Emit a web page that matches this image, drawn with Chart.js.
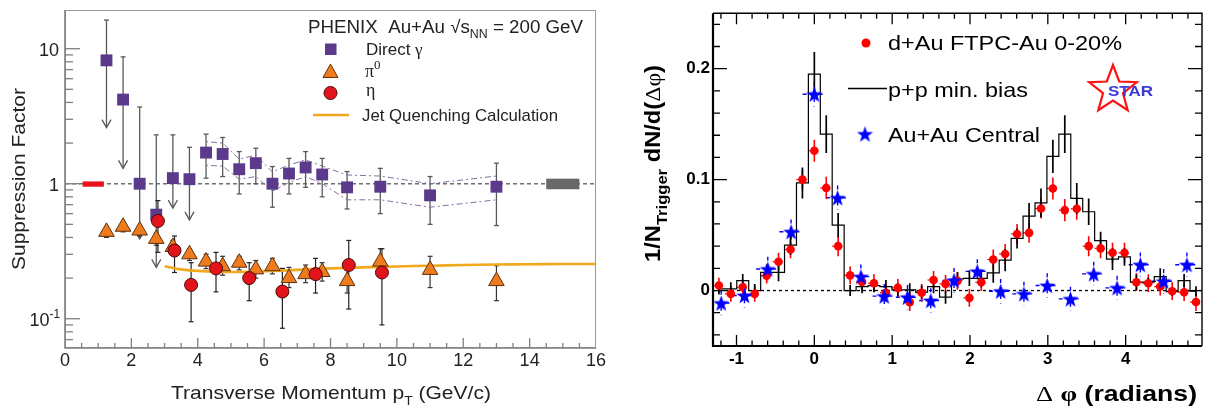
<!DOCTYPE html>
<html>
<head>
<meta charset="utf-8">
<script src="https://cdn.jsdelivr.net/npm/chart.js@4.4.0/dist/chart.umd.min.js"></script>
<style>
html, body { margin: 0; padding: 0; background: #fff; }
#wrap { position: relative; width: 1210px; height: 407px; overflow: hidden; }
#left { position: absolute; left: 0; top: 0; }
#right { position: absolute; left: 620px; top: 0; }
</style>
</head>
<body>
<div id="wrap">
  <canvas id="left" width="620" height="407"></canvas>
  <canvas id="right" width="590" height="407"></canvas>
</div>
<script>
// ---- left panel: PHENIX suppression factors vs pT ----
const gammaPt  = [1.25, 1.75, 2.25, 2.75, 3.25, 3.75, 4.25, 4.75, 5.25, 5.75, 6.25, 6.75, 7.25, 7.75, 8.5, 9.5, 11, 13];
const gammaVal = [8.2, 4.2, 1.0, 0.59, 1.1, 1.08, 1.70, 1.66, 1.28, 1.42, 1.0, 1.19, 1.32, 1.17, 0.94, 0.95, 0.82, 0.95];
const gammaHi  = [16.3, 8.7, 3.7, 2.3, 2.3, 1.86, 2.33, 2.2, 1.73, 1.83, 1.34, 1.54, 1.73, 1.54, 1.23, 1.30, 1.13, 1.42];
const gammaLo  = [2.6, 1.3, 0.39, 0.24, 0.66, 0.54, 1.1, 1.13, 0.84, 1.0, 0.67, 0.84, 0.94, 0.8, 0.65, 0.60, 0.50, 0.49];
const gammaLimit = [true, true, true, true, true, true, false, false, false, false, false, false, false, false, false, false, false, false];

const pi0Pt  = [1.25, 1.75, 2.25, 2.75, 3.25, 3.75, 4.25, 4.75, 5.25, 5.75, 6.25, 6.75, 7.25, 7.75, 8.5, 9.5, 11, 13];
const pi0Val = [0.44, 0.48, 0.45, 0.39, 0.34, 0.30, 0.265, 0.245, 0.26, 0.232, 0.245, 0.20, 0.214, 0.222, 0.19, 0.265, 0.23, 0.19];
const pi0Hi  = [0.48, 0.52, 0.49, 0.43, 0.38, 0.33, 0.30, 0.29, 0.29, 0.27, 0.28, 0.24, 0.25, 0.26, 0.23, 0.33, 0.29, 0.247];
const pi0Lo  = [0.40, 0.44, 0.41, 0.35, 0.30, 0.27, 0.235, 0.21, 0.23, 0.20, 0.215, 0.17, 0.185, 0.19, 0.155, 0.21, 0.17, 0.136];

const etaPt  = [2.8, 3.3, 3.8, 4.55, 5.55, 6.55, 7.55, 8.55, 9.55];
const etaVal = [0.53, 0.32, 0.178, 0.236, 0.20, 0.159, 0.214, 0.25, 0.22];
const etaHi  = [0.75, 0.41, 0.26, 0.31, 0.26, 0.236, 0.28, 0.38, 0.33];
const etaLo  = [0.31, 0.22, 0.095, 0.158, 0.136, 0.085, 0.155, 0.118, 0.09];

const jqPt  = [3, 3.5, 4, 5, 6, 7, 8, 9, 10, 11, 12, 13, 14, 15, 16];
const jqVal = [0.245, 0.232, 0.226, 0.222, 0.225, 0.23, 0.236, 0.24, 0.244, 0.247, 0.25, 0.252, 0.253, 0.254, 0.254];

const sysPt = [4.25, 4.75, 5.25, 5.75, 6.25, 6.75, 7.25, 7.75, 8.5, 9.5, 11, 13];
const sysHi = [2.05, 2.0, 1.52, 1.63, 1.22, 1.38, 1.5, 1.35, 1.16, 1.14, 1.0, 1.14];
const sysLo = [1.37, 1.35, 1.08, 1.13, 0.88, 1.02, 1.13, 1.0, 0.76, 0.76, 0.67, 0.76];

const normRed  = [0.53, 1.17, 0.95, 1.04];   // x0, x1, lo, hi
const normGrey = [14.5, 15.5, 0.91, 1.09];

const leftXTicks = [0, 2, 4, 6, 8, 10, 12, 14, 16];
const leftYTicks = [10, 1, 0.1];

// ---- right panel: STAR azimuthal correlations ----
const phiBins = [-1.226, -1.073, -0.920, -0.766, -0.613, -0.460, -0.306, -0.153, 0, 0.153, 0.306, 0.460, 0.613,
  0.766, 0.920, 1.073, 1.226, 1.379, 1.532, 1.686, 1.839, 1.992, 2.145, 2.299, 2.452, 2.605, 2.759, 2.912,
  3.065, 3.218, 3.372, 3.525, 3.678, 3.831, 3.985, 4.138, 4.291, 4.444, 4.598, 4.751, 4.904];
const ppHist = [0.0015, 0.0015, 0.009, 0.0, 0.0164, 0.0164, 0.041, 0.097, 0.195, 0.141, 0.059, 0.0, 0.0036,
  0.0045, 0.0036, 0.0006, 0.0006, -0.0015, 0.0036, -0.006, 0.0104, 0.011, 0.011, 0.016, 0.0274, 0.047, 0.067,
  0.079, 0.121, 0.141, 0.083, 0.071, 0.045, 0.0284, 0.0304, 0.0075, 0.0075, 0.0125, -0.0009, 0.009, -0.0006];
const ppErr = [0.005, 0.006, 0.006, 0.006, 0.007, 0.008, 0.009, 0.014, 0.020, 0.017, 0.011, 0.005, 0.006,
  0.006, 0.006, 0.006, 0.006, 0.006, 0.006, 0.006, 0.006, 0.007, 0.008, 0.009, 0.010, 0.009, 0.012,
  0.013, 0.015, 0.017, 0.014, 0.012, 0.008, 0.010, 0.008, 0.007, 0.004, 0.0075, 0.004, 0.006, 0.0045];
const dAuVal = [0.0045, -0.003, 0.003, -0.003, 0.0134, 0.026, 0.037, 0.100, 0.126, 0.0925, 0.040, 0.0137, 0.0078,
  0.0066, -0.002, 0.0024, -0.0105, -0.002, 0.0095, 0.006, 0.0087, -0.0066, 0.0075, 0.028, 0.033, 0.051, 0.052,
  0.074, 0.092, 0.0725, 0.0737, 0.040, 0.038, 0.034, 0.034, 0.0075, 0.0066, 0.0036, -0.0006, -0.0015, -0.0104];
const dAuErr = [0.007, 0.007, 0.007, 0.007, 0.007, 0.008, 0.008, 0.009, 0.010, 0.010, 0.009, 0.008, 0.008,
  0.008, 0.008, 0.008, 0.008, 0.008, 0.008, 0.008, 0.008, 0.008, 0.008, 0.009, 0.009, 0.009, 0.009,
  0.009, 0.010, 0.010, 0.010, 0.009, 0.009, 0.009, 0.009, 0.008, 0.008, 0.008, 0.008, 0.008, 0.008];
const dAuHalfWidth = 0.077;

const auauPhi = [-1.197, -0.898, -0.598, -0.299, 0, 0.299, 0.598, 0.898, 1.197, 1.496, 1.795, 2.094, 2.394,
  2.693, 2.992, 3.291, 3.590, 3.890, 4.189, 4.488, 4.787];
const auauVal = [-0.0113, -0.0045, 0.0194, 0.053, 0.177, 0.0836, 0.0125, -0.005, -0.006, -0.009, 0.0092, 0.0173,
  -0.0006, -0.003, 0.0045, -0.0075, 0.015, 0.0024, 0.0233, 0.0084, 0.0233];
const auauErr = [0.011, 0.011, 0.011, 0.011, 0.011, 0.011, 0.011, 0.011, 0.011, 0.011, 0.011, 0.011, 0.011,
  0.011, 0.011, 0.011, 0.011, 0.011, 0.011, 0.011, 0.011];
const auauHalfWidth = 0.15;

const rightXTicks = [-1, 0, 1, 2, 3, 4];
const rightYTicks = [0, 0.1, 0.2];

const SANS = "'Liberation Sans', Arial, Helvetica, sans-serif";
const SERIF = "'Liberation Serif', 'Times New Roman', serif";
Chart.defaults.font.family = SANS;

function pts(xs, ys) { return xs.map((x, i) => ({ x: x, y: ys[i] })); }

// draws text made of segments [text, 'sub'|'sup'|'', family, weight], optionally stretched to a width
function rich(ctx, segs, x, y, opt) {
  const parts = segs.map(s => {
    const small = s[1] === 'sub' || s[1] === 'sup';
    const sz = small ? opt.size * (opt.small || 0.66) : opt.size;
    const font = (s[3] || opt.weight || 'normal') + ' ' + sz + 'px ' + (s[2] || opt.family || SANS);
    ctx.font = font;
    return { t: s[0], k: s[1], font: font, w: ctx.measureText(s[0]).width };
  });
  const total = parts.reduce((a, p) => a + p.w, 0);
  const sx = opt.width ? opt.width / total : 1;
  const w = total * sx;
  let x0 = x;
  if (opt.align === 'center') x0 = x - w / 2;
  else if (opt.align === 'right') x0 = x - w;
  ctx.save();
  ctx.translate(x0, y);
  ctx.scale(sx, 1);
  ctx.textAlign = 'left';
  ctx.textBaseline = 'alphabetic';
  ctx.fillStyle = opt.color || '#222';
  let cx = 0;
  parts.forEach(p => {
    ctx.font = p.font;
    const dy = p.k === 'sub' ? opt.size * 0.3 : p.k === 'sup' ? -opt.size * 0.42 : 0;
    ctx.fillText(p.t, cx, dy);
    cx += p.w;
  });
  ctx.restore();
}

function starPath(ctx, cx, cy, R, r) {
  ctx.beginPath();
  for (let i = 0; i < 10; i++) {
    const a = -Math.PI / 2 + i * Math.PI / 5;
    const rr = i % 2 ? r : R;
    ctx.lineTo(cx + rr * Math.cos(a), cy + rr * Math.sin(a));
  }
  ctx.closePath();
}

function makeStar(size, color) {
  const c = document.createElement('canvas');
  c.width = size; c.height = size;
  const g = c.getContext('2d');
  starPath(g, size / 2, size / 2 + 0.8, size / 2, size * 0.2);
  g.fillStyle = color;
  g.fill();
  return c;
}
const blueStar = makeStar(17, '#0000ff');

// ---------- left plugin ----------
const phenixDecor = {
  id: 'phenixDecor',
  beforeDatasetsDraw(chart) {
    const { ctx, chartArea: a, scales: { x, y } } = chart;
    ctx.save();
    ctx.beginPath();
    ctx.rect(a.left, a.top, a.right - a.left, a.bottom - a.top);
    ctx.clip();

    const y1 = y.getPixelForValue(1);
    ctx.strokeStyle = '#707070';
    ctx.lineWidth = 1.4;
    ctx.setLineDash([4, 3]);
    ctx.beginPath(); ctx.moveTo(a.left, y1); ctx.lineTo(a.right, y1); ctx.stroke();
    ctx.setLineDash([]);

    [[normRed, '#e8121c'], [normGrey, '#686868']].forEach(([b, col]) => {
      const x0 = x.getPixelForValue(b[0]), x1 = x.getPixelForValue(b[1]);
      const yl = y.getPixelForValue(b[2]), yh = y.getPixelForValue(b[3]);
      ctx.fillStyle = col;
      ctx.fillRect(x0, yh, x1 - x0, yl - yh);
    });

    function bar(xv, lo, hi, col, limit) {
      const px = x.getPixelForValue(xv);
      const pl = y.getPixelForValue(lo), ph = y.getPixelForValue(hi);
      ctx.strokeStyle = col;
      ctx.beginPath(); ctx.moveTo(px, ph); ctx.lineTo(px, pl); ctx.stroke();
      ctx.beginPath(); ctx.moveTo(px - 2.5, ph); ctx.lineTo(px + 2.5, ph); ctx.stroke();
      if (limit) {
        ctx.beginPath();
        ctx.moveTo(px - 4.5, pl - 8); ctx.lineTo(px, pl); ctx.lineTo(px + 4.5, pl - 8);
        ctx.stroke();
      } else {
        ctx.beginPath(); ctx.moveTo(px - 2.5, pl); ctx.lineTo(px + 2.5, pl); ctx.stroke();
      }
    }
    ctx.lineWidth = 1.3;
    gammaPt.forEach((v, i) => bar(v, gammaLo[i], gammaHi[i], '#5a5a5a', gammaLimit[i]));
    ctx.lineWidth = 1.2;
    pi0Pt.forEach((v, i) => bar(v, pi0Lo[i], pi0Hi[i], '#333', false));
    etaPt.forEach((v, i) => bar(v, etaLo[i], etaHi[i], '#222', false));
    ctx.restore();
  },
  afterDraw(chart) {
    const { ctx, chartArea: a, scales: { x, y } } = chart;
    ctx.save();
    // frame
    ctx.strokeStyle = '#9a9a9a';
    ctx.lineWidth = 1;
    ctx.strokeRect(a.left + 0.5, a.top + 0.5, a.right - a.left - 1, a.bottom - a.top - 1);
    ctx.strokeStyle = '#808080';
    ctx.lineWidth = 1.6;
    ctx.beginPath();
    ctx.moveTo(a.left, a.top); ctx.lineTo(a.left, a.bottom); ctx.lineTo(a.right, a.bottom);
    ctx.stroke();
    // ticks
    ctx.lineWidth = 1.3;
    ctx.strokeStyle = '#808080';
    for (let i = 1; i < 32; i++) {
      const px = x.getPixelForValue(i * 0.5);
      const len = i % 4 === 0 ? 10 : 5;
      ctx.beginPath(); ctx.moveTo(px, a.bottom); ctx.lineTo(px, a.bottom - len); ctx.stroke();
    }
    [0.01, 0.1, 1, 10].forEach(dec => {
      for (let m = 1; m <= 9; m++) {
        const v = m * dec;
        if (v < y.min || v > y.max) continue;
        const py = y.getPixelForValue(v);
        const len = m === 1 ? 15 : 8;
        ctx.beginPath(); ctx.moveTo(a.left, py); ctx.lineTo(a.left + len, py); ctx.stroke();
      }
    });
    // y tick labels
    leftYTicks.forEach(v => {
      const py = y.getPixelForValue(v) + 7;
      if (v === 0.1) rich(ctx, [['10', ''], ['-1', 'sup']], 60, py, { size: 18, align: 'right', color: '#222' });
      else rich(ctx, [[String(v), '']], 59, py, { size: 18, align: 'right', color: '#222' });
    });
    // axis titles
    rich(ctx, [['Transverse Momentum p', ''], ['T', 'sub'], [' (GeV/c)', '']], 331, 399, { size: 19, align: 'center', width: 320 });
    ctx.save();
    ctx.translate(25, 179);
    ctx.rotate(-Math.PI / 2);
    rich(ctx, [['Suppression Factor', '']], 0, 0, { size: 19, align: 'center', width: 182 });
    ctx.restore();
    // legend
    rich(ctx, [['PHENIX  Au+Au \u221As', ''], ['NN', 'sub'], [' = 200 GeV', '']], 308, 33, { size: 18, width: 275 });
    ctx.fillStyle = '#5b3a8c';
    ctx.fillRect(325, 43.5, 11.5, 11.5);
    ctx.beginPath();
    ctx.moveTo(330.5, 64); ctx.lineTo(338, 77.5); ctx.lineTo(323, 77.5); ctx.closePath();
    ctx.fillStyle = '#f07b1d'; ctx.fill();
    ctx.strokeStyle = '#5c3210'; ctx.lineWidth = 1; ctx.stroke();
    ctx.beginPath(); ctx.arc(330.5, 93, 6.5, 0, Math.PI * 2);
    ctx.fillStyle = '#e3131c'; ctx.fill();
    ctx.strokeStyle = '#4a0a0a'; ctx.stroke();
    ctx.strokeStyle = '#f2a81d'; ctx.lineWidth = 2.5;
    ctx.beginPath(); ctx.moveTo(313, 115); ctx.lineTo(349, 115); ctx.stroke();
    rich(ctx, [['Direct ', ''], ['\u03b3', '', SERIF]], 366, 55, { size: 17 });
    rich(ctx, [['\u03c0', '', SERIF], ['0', 'sup', SERIF]], 365, 77, { size: 18, small: 0.72 });
    rich(ctx, [['\u03b7', '', SERIF]], 366, 96, { size: 18 });
    rich(ctx, [['Jet Quenching Calculation', '']], 362, 121, { size: 17, width: 196 });
    ctx.restore();
  }
};

new Chart(document.getElementById('left'), {
  type: 'scatter',
  data: {
    datasets: [
      { label: '\u03b7', data: pts(etaPt, etaVal), pointStyle: 'circle', pointRadius: 6.5,
        backgroundColor: '#e3131c', borderColor: '#4a0a0a', borderWidth: 1, order: 1 },
      { label: '\u03c00', data: pts(pi0Pt, pi0Val), pointStyle: 'triangle', pointRadius: 9,
        backgroundColor: '#f07b1d', borderColor: '#5c3210', borderWidth: 1, order: 2 },
      { label: 'Direct \u03b3', data: pts(gammaPt, gammaVal), pointStyle: 'rect', pointRadius: 8.4,
        backgroundColor: '#5b3a8c', borderColor: '#5b3a8c', borderWidth: 0, order: 3 },
      { type: 'line', label: 'Jet Quenching Calculation', data: pts(jqPt, jqVal), borderColor: '#f2a81d',
        borderWidth: 2.6, pointRadius: 0, tension: 0.4, order: 4 },
      { type: 'line', label: 'sys hi', data: pts(sysPt, sysHi), borderColor: '#7f7399', borderWidth: 1,
        borderDash: [2, 3, 6, 3], pointRadius: 0, order: 5 },
      { type: 'line', label: 'sys lo', data: pts(sysPt, sysLo), borderColor: '#7f7399', borderWidth: 1,
        borderDash: [2, 3, 6, 3], pointRadius: 0, order: 6 }
    ]
  },
  options: {
    responsive: false,
    animation: false,
    layout: { padding: { top: 10, right: 24, left: 0, bottom: 0 } },
    plugins: { legend: { display: false }, tooltip: { enabled: false } },
    scales: {
      x: {
        type: 'linear', min: 0, max: 16,
        grid: { display: false, drawTicks: false }, border: { display: false },
        afterBuildTicks: s => { s.ticks = leftXTicks.map(v => ({ value: v })); },
        afterFit: s => { s.height = 59; },
        ticks: { font: { size: 18 }, color: '#222', padding: 2, maxRotation: 0 }
      },
      y: {
        type: 'logarithmic', min: 0.0607, max: 19.35,
        grid: { display: false, drawTicks: false }, border: { display: false },
        ticks: { display: false },
        afterFit: s => { s.width = 65; }
      }
    }
  },
  plugins: [phenixDecor]
});

// ---------- right plugin ----------
const starDecor = {
  id: 'starDecor',
  beforeDatasetsDraw(chart) {
    const { ctx, chartArea: a, scales: { x, y } } = chart;
    ctx.save();
    ctx.beginPath();
    ctx.rect(a.left, a.top, a.right - a.left, a.bottom - a.top);
    ctx.clip();
    const y0 = y.getPixelForValue(0);
    ctx.strokeStyle = '#000';
    ctx.lineWidth = 1.3;
    ctx.setLineDash([3, 3]);
    ctx.beginPath(); ctx.moveTo(a.left, y0); ctx.lineTo(a.right, y0); ctx.stroke();

    // Au+Au error bars (dashed blue)
    ctx.strokeStyle = '#0000ff';
    ctx.lineWidth = 1.4;
    ctx.setLineDash([4, 4]);
    auauPhi.forEach((v, i) => {
      const px = x.getPixelForValue(v), py = y.getPixelForValue(auauVal[i]);
      const pl = y.getPixelForValue(auauVal[i] - auauErr[i]), ph = y.getPixelForValue(auauVal[i] + auauErr[i]);
      const xl = x.getPixelForValue(v - auauHalfWidth), xr = x.getPixelForValue(v + auauHalfWidth);
      ctx.beginPath();
      ctx.moveTo(px, ph); ctx.lineTo(px, pl);
      ctx.moveTo(xl, py); ctx.lineTo(xr, py);
      ctx.stroke();
    });
    // d+Au error bars
    ctx.strokeStyle = '#ff0000';
    dAuVal.forEach((v, i) => {
      const px = x.getPixelForValue(phiBins[i]), py = y.getPixelForValue(v);
      const pl = y.getPixelForValue(v - dAuErr[i]), ph = y.getPixelForValue(v + dAuErr[i]);
      ctx.setLineDash([]);
      ctx.lineWidth = 1.6;
      ctx.beginPath(); ctx.moveTo(px, ph); ctx.lineTo(px, pl); ctx.stroke();
      ctx.setLineDash([2, 2]);
      ctx.lineWidth = 1.2;
      ctx.beginPath();
      ctx.moveTo(x.getPixelForValue(phiBins[i] - dAuHalfWidth), py);
      ctx.lineTo(x.getPixelForValue(phiBins[i] + dAuHalfWidth), py);
      ctx.stroke();
    });
    // p+p error bars
    ctx.setLineDash([]);
    ctx.strokeStyle = '#000';
    ctx.lineWidth = 1.7;
    ppHist.forEach((v, i) => {
      const px = x.getPixelForValue(phiBins[i]);
      ctx.beginPath();
      ctx.moveTo(px, y.getPixelForValue(v + ppErr[i]));
      ctx.lineTo(px, y.getPixelForValue(v - ppErr[i]));
      ctx.stroke();
    });
    ctx.restore();
  },
  afterDraw(chart) {
    const { ctx, chartArea: a, scales: { x, y } } = chart;
    ctx.save();
    ctx.strokeStyle = '#000';
    ctx.lineWidth = 1.4;
    ctx.beginPath();
    ctx.moveTo(a.left, a.top); ctx.lineTo(a.right, a.top); ctx.lineTo(a.right, a.bottom);
    ctx.stroke();
    ctx.lineWidth = 2.2;
    ctx.beginPath();
    ctx.moveTo(a.left, a.top); ctx.lineTo(a.left, a.bottom); ctx.lineTo(a.right, a.bottom);
    ctx.stroke();
    ctx.lineWidth = 1.3;
    for (let i = -6; i <= 24; i++) {
      const px = x.getPixelForValue(i * 0.2);
      const len = i % 5 === 0 ? 11 : 5.5;
      ctx.beginPath();
      ctx.moveTo(px, a.bottom); ctx.lineTo(px, a.bottom - len);
      ctx.moveTo(px, a.top); ctx.lineTo(px, a.top + len);
      ctx.stroke();
    }
    for (let i = -2; i <= 12; i++) {
      const py = y.getPixelForValue(i * 0.02);
      const len = i % 5 === 0 ? 14 : 7;
      ctx.beginPath();
      ctx.moveTo(a.left, py); ctx.lineTo(a.left + len, py);
      ctx.moveTo(a.right, py); ctx.lineTo(a.right - len, py);
      ctx.stroke();
    }
    // legend
    const off = 620;
    ctx.fillStyle = '#ff0000';
    ctx.beginPath(); ctx.arc(866 - off, 43, 4.5, 0, Math.PI * 2); ctx.fill();
    ctx.strokeStyle = '#000'; ctx.lineWidth = 1.6;
    ctx.beginPath(); ctx.moveTo(848 - off, 88.5); ctx.lineTo(887 - off, 88.5); ctx.stroke();
    ctx.drawImage(blueStar, 865 - off - 8.5, 134 - 8.5);
    rich(ctx, [['d+Au FTPC-Au 0-20%', '']], 888 - off, 50, { size: 21, width: 234, color: '#000' });
    rich(ctx, [['p+p min. bias', '']], 888 - off, 96.5, { size: 21, width: 140, color: '#000' });
    rich(ctx, [['Au+Au Central', '']], 888 - off, 141.5, { size: 21, width: 152, color: '#000' });
    // STAR logo
    starPath(ctx, 1113 - off, 90, 25, 10.5);
    ctx.strokeStyle = '#ff1010'; ctx.lineWidth = 2.2; ctx.stroke();
    rich(ctx, [['STAR', '']], 1108 - off, 96, { size: 15, weight: 'bold', width: 45, color: '#3a3ad6' });
    // axis titles
    rich(ctx, [['\u0394', '', SERIF, 'normal'], [' ', ''], ['\u03c6', '', SERIF], [' (radians)', '']], 1036 - off, 401,
      { size: 22, weight: 'bold', width: 161, color: '#000' });
    ctx.save();
    ctx.translate(660 - off, 163.5);
    ctx.rotate(-Math.PI / 2);
    rich(ctx, [['1/N', ''], ['Trigger', 'sub'], [' dN/d(', ''], ['\u0394\u03c6', '', SERIF, 'normal'], [')', '']], 0, 0,
      { size: 22, weight: 'bold', align: 'center', width: 197, color: '#000', small: 0.7 });
    ctx.restore();
    ctx.restore();
  }
};

new Chart(document.getElementById('right'), {
  type: 'scatter',
  data: {
    datasets: [
      { label: 'Au+Au Central', data: pts(auauPhi, auauVal), pointStyle: blueStar, order: 1 },
      { label: 'd+Au FTPC-Au 0-20%', data: pts(phiBins, dAuVal), pointStyle: 'circle', pointRadius: 4.3,
        backgroundColor: '#ff0000', borderWidth: 0, order: 2 },
      { type: 'line', label: 'p+p min. bias', data: pts(phiBins, ppHist), stepped: 'middle',
        borderColor: '#000', borderWidth: 1.2, pointRadius: 0, order: 3 }
    ]
  },
  options: {
    responsive: false,
    animation: false,
    layout: { padding: { top: 11, right: 8, left: 0, bottom: 0 } },
    plugins: { legend: { display: false }, tooltip: { enabled: false } },
    scales: {
      x: {
        type: 'linear', min: -1.302, max: 4.981,
        grid: { display: false, drawTicks: false }, border: { display: false },
        afterBuildTicks: s => { s.ticks = rightXTicks.map(v => ({ value: v })); },
        afterFit: s => { s.height = 61; },
        ticks: { font: { size: 17, weight: 'bold' }, color: '#000', padding: 3, maxRotation: 0 }
      },
      y: {
        type: 'linear', min: -0.05, max: 0.25,
        grid: { display: false, drawTicks: false }, border: { display: false },
        afterBuildTicks: s => { s.ticks = rightYTicks.map(v => ({ value: v })); },
        afterFit: s => { s.width = 93; },
        ticks: { font: { size: 17, weight: 'bold' }, color: '#000', padding: 3 }
      }
    }
  },
  plugins: [starDecor]
});
</script>
</body>
</html>
